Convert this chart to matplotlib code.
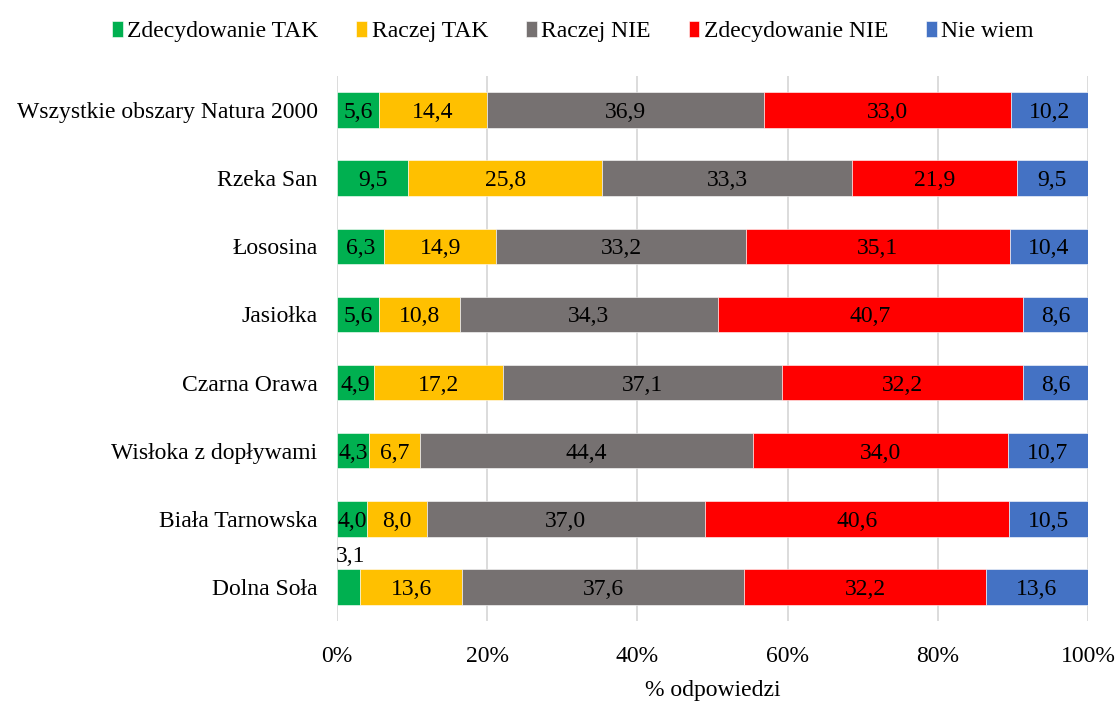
import numpy as np
import matplotlib
matplotlib.use("Agg")
from matplotlib import pyplot as plt
from matplotlib.ticker import FuncFormatter

# === dane ===
obszary = ["Wszystkie obszary Natura 2000", "Rzeka San", "Łososina", "Jasiołka",
           "Czarna Orawa", "Wisłoka z dopływami", "Biała Tarnowska", "Dolna Soła"]
kategorie = ["Zdecydowanie TAK", "Raczej TAK", "Raczej NIE", "Zdecydowanie NIE", "Nie wiem"]
zdecydowanie_tak = [5.6, 9.5, 6.3, 5.6, 4.9, 4.3, 4.0, 3.1]
raczej_tak = [14.4, 25.8, 14.9, 10.8, 17.2, 6.7, 8.0, 13.6]
raczej_nie = [36.9, 33.3, 33.2, 34.3, 37.1, 44.4, 37.0, 37.6]
zdecydowanie_nie = [33.0, 21.9, 35.1, 40.7, 32.2, 34.0, 40.6, 32.2]
nie_wiem = [10.2, 9.5, 10.4, 8.6, 8.6, 10.7, 10.5, 13.6]
kolory = ["#00B050", "#FFC000", "#767171", "#FF0000", "#4472C4"]

plt.rcParams["font.family"] = ["Liberation Serif", "DejaVu Serif"]
fs = 17

wartosci = np.array([zdecydowanie_tak, raczej_tak, raczej_nie, zdecydowanie_nie, nie_wiem])
udzialy = wartosci / wartosci.sum(axis=0) * 100  # wykres 100% skumulowany

fig = plt.figure(figsize=(11.17, 7.01), dpi=100)
ax = fig.add_axes([0.3017, 0.1141, 0.6723, 0.7775])

y = np.arange(len(obszary))
lewo = np.zeros(len(obszary))
for k in range(len(kategorie)):
    ax.barh(y, udzialy[k], left=lewo, height=0.52, color=kolory[k],
            edgecolor="white", linewidth=0.4, label=kategorie[k], zorder=3)
    for i in range(len(obszary)):
        tekst = f"{wartosci[k, i]:.1f}".replace(".", ",")
        srodek = lewo[i] + udzialy[k, i] / 2
        if udzialy[k, i] < 3.5:
            # za waska etykieta - nad slupkiem
            ax.text(srodek + 0.3, y[i] - 0.29, tekst, ha="center", va="bottom", fontsize=fs, zorder=4)
        else:
            ax.text(srodek, y[i], tekst, ha="center", va="center_baseline", fontsize=fs, zorder=4)
    lewo += udzialy[k]

ax.set_xlim(0, 100)
ax.set_ylim(len(obszary) - 0.5, -0.5)
ax.set_yticks(y)
ax.set_yticklabels(obszary, fontsize=fs)
ax.set_xticks(np.arange(0, 101, 20))
ax.xaxis.set_major_formatter(FuncFormatter(lambda v, p: f"{v:.0f}%"))
ax.tick_params(axis="x", labelsize=fs, length=0, pad=18)
ax.tick_params(axis="y", length=0, pad=14)
ax.set_xlabel("% odpowiedzi", fontsize=fs, labelpad=9)
ax.grid(axis="x", color="#D9D9D9", linewidth=1.3, zorder=0)
for s in ax.spines.values():
    s.set_visible(False)

fig.legend(loc="upper center", bbox_to_anchor=(0.513, 1.0), ncol=5, frameon=False,
           fontsize=fs, handlelength=0.45, handleheight=0.65, handletextpad=0.2,
           columnspacing=1.6)

plt.savefig("out.png", dpi=100)
